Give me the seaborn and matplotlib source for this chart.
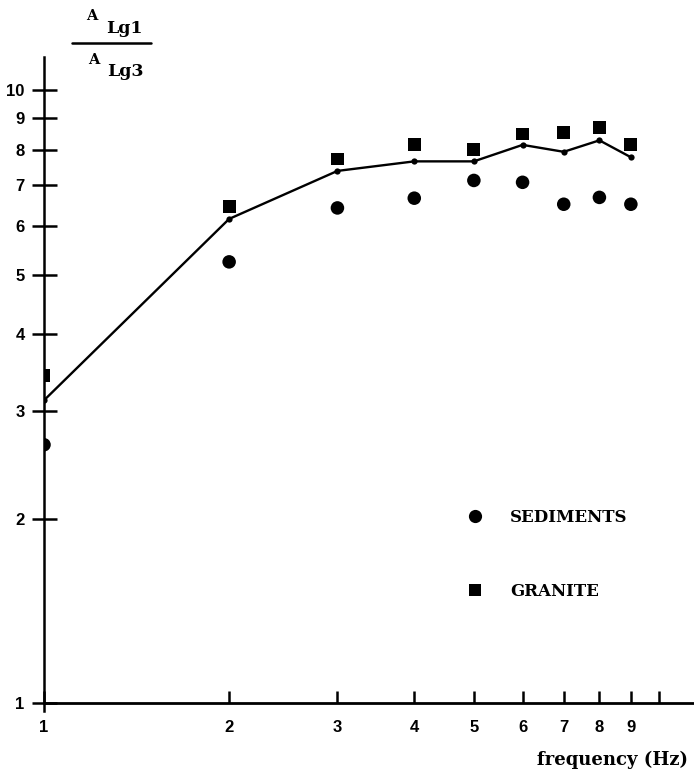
import matplotlib
matplotlib.use("Agg")
import matplotlib.pyplot as plt
from matplotlib.lines import Line2D
import seaborn as sns
import pandas as pd

# Frequency bands (Hz)
frequency = [1, 2, 3, 4, 5, 6, 7, 8, 9]
# Lg1 / Lg3 amplitude ratio per site type
sediments = [2.64, 5.25, 6.43, 6.67, 7.13, 7.08, 6.52, 6.69, 6.52]
granite = [3.43, 6.46, 7.73, 8.17, 8.00, 8.49, 8.54, 8.71, 8.15]
mean_ratio = [3.12, 6.17, 7.39, 7.66, 7.66, 8.15, 7.94, 8.29, 7.78]

x_ticks = [1, 2, 3, 4, 5, 6, 7, 8, 9, 10]
x_ticklabels = ["1", "2", "3", "4", "5", "6", "7", "8", "9", ""]
y_ticks = [1, 2, 3, 4, 5, 6, 7, 8, 9, 10]
y_ticklabels = ["1", "2", "3", "4", "5", "6", "7", "8", "9", "10"]

sns.set_style("white", {"xtick.bottom": True, "ytick.left": True,
                        "text.color": "black", "axes.labelcolor": "black",
                        "xtick.color": "black", "ytick.color": "black"})
plt.rcParams["font.family"] = ["Liberation Sans", "DejaVu Sans"]

W, H = 694, 775
fig = plt.figure(figsize=(W / 100, H / 100), dpi=100)
ax = fig.add_axes([44 / W, 1 - 711.1 / H, 650 / W, 654.1 / H])

df_sed = pd.DataFrame({"f": frequency, "r": sediments})
df_gra = pd.DataFrame({"f": frequency, "r": granite})
df_mean = pd.DataFrame({"f": frequency, "r": mean_ratio})

sns.lineplot(data=df_mean, x="f", y="r", ax=ax, color="black", lw=1.7,
             marker="o", markersize=4.5, markeredgewidth=0, zorder=3)
sns.scatterplot(data=df_sed, x="f", y="r", ax=ax, color="black", marker="o",
                s=95, edgecolor="none", zorder=4)
sns.scatterplot(data=df_gra, x="f", y="r", ax=ax, color="black", marker="s",
                s=85, edgecolor="none", zorder=4)

ax.set_xscale("log")
ax.set_yscale("log")
ax.set_xlim(1, 11.4)
ax.set_ylim(0.97, 11.34)
ax.minorticks_off()

ax.set_xticks(x_ticks)
ax.set_xticklabels(x_ticklabels)
ax.set_yticks(y_ticks)
ax.set_yticklabels(y_ticklabels)
ax.set_xlabel("")
ax.set_ylabel("")

for side in ("top", "right"):
    ax.spines[side].set_visible(False)
ax.spines["bottom"].set_position(("data", 1))
ax.spines["bottom"].set_linewidth(2.0)
ax.spines["left"].set_linewidth(1.8)
for s in ("bottom", "left"):
    ax.spines[s].set_color("black")

ax.tick_params(axis="x", which="major", bottom=True, direction="in",
               length=9, width=1.8, pad=12, labelsize=12, colors="black")
ax.tick_params(axis="y", which="major", left=True, direction="inout",
               length=18, width=1.8, pad=5, labelsize=12, colors="black")
for lab in ax.get_xticklabels() + ax.get_yticklabels():
    lab.set_fontweight("bold")

serif = ["DejaVu Serif"]
legend_handles = [
    Line2D([], [], ls="none", marker="o", color="black", markersize=9.5,
           markeredgewidth=0, label="SEDIMENTS"),
    Line2D([], [], ls="none", marker="s", color="black", markersize=8.5,
           markeredgewidth=0, label="GRANITE"),
]
fig.legend(handles=legend_handles, loc="center left",
           bbox_to_anchor=(467 / W, 1 - 554.5 / H), frameon=False,
           handlelength=1.0, handletextpad=1.6, labelspacing=3.4,
           borderpad=0, borderaxespad=0, labelcolor="black",
           prop={"family": serif, "weight": "bold", "size": 12})

fig.text(688 / W, 1 - 760 / H, "frequency (Hz)", ha="right", va="center",
         family=serif, weight="bold", fontsize=13, color="black")

# Y quantity written as a fraction A_Lg1 / A_Lg3
fig.text(86 / W, 1 - 19.5 / H, "A", ha="left", va="baseline",
         family=serif, weight="bold", fontsize=10.5, color="black")
fig.text(106 / W, 1 - 33 / H, "Lg1", ha="left", va="baseline",
         family=serif, weight="bold", fontsize=12.5, color="black")
fig.add_artist(Line2D([72 / W, 151 / W], [1 - 43 / H, 1 - 43 / H],
                      transform=fig.transFigure, color="black", lw=1.8))
fig.text(88 / W, 1 - 64 / H, "A", ha="left", va="baseline",
         family=serif, weight="bold", fontsize=10.5, color="black")
fig.text(107 / W, 1 - 76 / H, "Lg3", ha="left", va="baseline",
         family=serif, weight="bold", fontsize=12.5, color="black")

fig.savefig("out.png", dpi=100)
